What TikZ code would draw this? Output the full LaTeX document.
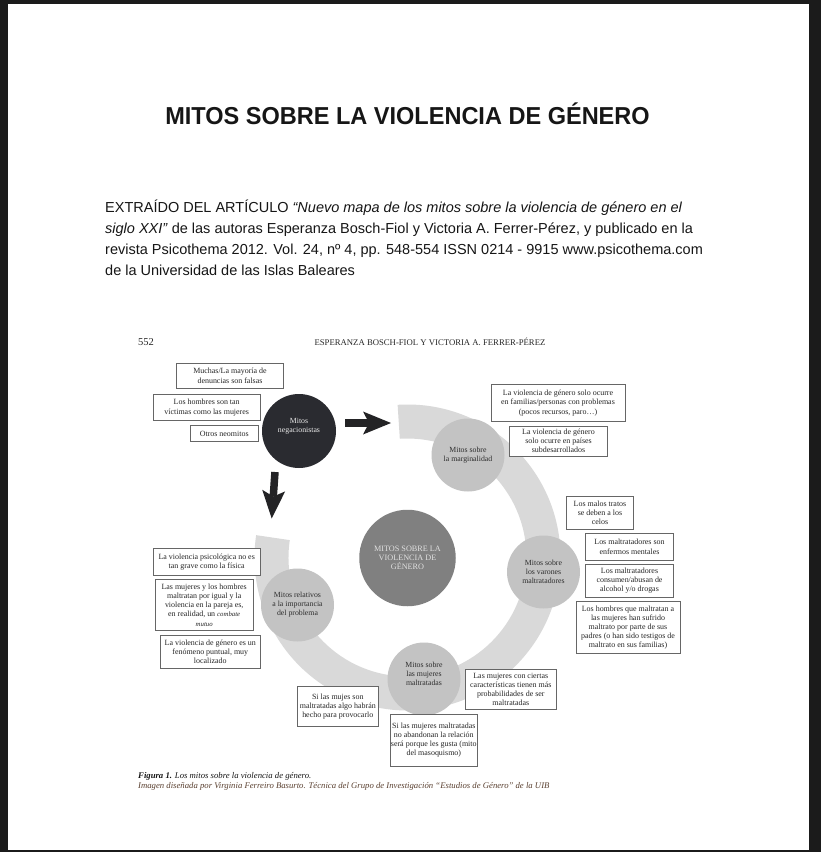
\documentclass[tikz,border=0pt]{standalone}
\usepackage{fontspec}
\usepackage{graphicx}
\setmainfont{Liberation Serif}
\newfontfamily\sansf{Liberation Sans}
\usetikzlibrary{arrows.meta,calc}
\definecolor{pagebg}{HTML}{1B1B1B}
\definecolor{ringc}{HTML}{D9D9D9}
\definecolor{satfill}{HTML}{C3C3C3}
\definecolor{centfill}{HTML}{808080}
\definecolor{negfill}{HTML}{2A2B30}
\definecolor{arrowc}{HTML}{232325}
\definecolor{boxc}{HTML}{666666}
\definecolor{boxtext}{HTML}{262626}
\definecolor{sattext}{HTML}{2E2E2E}
\definecolor{capbrown}{HTML}{5A4030}
\definecolor{inkc}{HTML}{161616}
\begin{document}
\begin{tikzpicture}[x=1pt,y=-1pt,
  box/.style={draw=boxc, line width=0.6pt, fill=white, inner sep=1pt, align=center, text=boxtext, font=\fontsize{7.95}{9.2}\selectfont},
  satc/.style={circle, fill=satfill, inner sep=0pt, minimum size=73pt, align=center, text=sattext, font=\fontsize{7.8}{9}\selectfont},
  para/.style={anchor=base west, inner sep=0pt, text=inkc, font=\sansf\fontsize{14.5}{17}\selectfont},
  blockarrow/.style={draw=arrowc, line width=7.5pt, -{Stealth[length=28pt,width=23pt,inset=6pt,line width=0pt]}}
]
\useasboundingbox (0,0) rectangle (821,852);
% page
\fill[pagebg] (0,0) rectangle (821,852);
\fill[white] (8,4) rectangle (809,850);
% title and paragraph
\node[anchor=base, inner sep=0pt, text=inkc, font=\sansf\bfseries\fontsize{24.5}{28}\selectfont] (title) at (407.5,124.5) {\scalebox{0.96}[1]{MITOS SOBRE LA VIOLENCIA DE GÉNERO}};
\node[para] (p1) at (105,212) {EXTRAÍDO DEL ARTÍCULO \textit{“Nuevo mapa de los mitos sobre la violencia de género en el}};
\node[para] (p2) at (105,233) {\textit{siglo XXI”} de las autoras Esperanza Bosch-Fiol y Victoria A. Ferrer-Pérez, y publicado en la};
\node[para] (p3) at (105,254) {revista Psicothema 2012. Vol. 24, nº 4, pp. 548-554 ISSN 0214 - 9915 www.psicothema.com};
\node[para] (p4) at (105,275) {de la Universidad de las Islas Baleares};
% header of figure page
\node[anchor=base west, inner sep=0pt, text=boxtext, font=\fontsize{10.5}{12}\selectfont] (pgnum) at (138,345) {552};
\node[anchor=base, inner sep=0pt, text=boxtext, font=\fontsize{8.7}{10}\selectfont] (hdr) at (430,345) {ESPERANZA BOSCH-FIOL Y VICTORIA A. FERRER-PÉREZ};
% ring
\coordinate (rc) at (407.5,557.5);
\fill[ringc] ($(rc)+(-93.7:153)$) arc[start angle=-93.7,end angle=188.4,radius=153] -- ($(rc)+(188.4:119)$) arc[start angle=188.4,end angle=-93.7,radius=119] -- cycle;
% circles
\node[circle, fill=centfill, inner sep=0pt, minimum size=96.5pt, align=center, text=white!88!black, font=\fontsize{8.2}{9.3}\selectfont] (cen) at (407.5,558) {MITOS SOBRE LA\\VIOLENCIA DE\\GÉNERO};
\node[satc, fill=negfill, text=white!92!black, minimum size=74pt] (neg) at (299,431) {Mitos\\negacionistas\\[3pt]};
\node[satc] (marg) at (468,455) {Mitos sobre\\la marginalidad};
\node[satc] (var) at (543.5,572) {Mitos sobre\\los varones\\maltratadores};
\node[satc] (muj) at (424,679) {};
\node[inner sep=0pt, align=center, text=sattext, font=\fontsize{7.8}{9}\selectfont] (mujt) at (424,673.5) {Mitos sobre\\las mujeres\\maltratadas};
\node[satc] (rel) at (297.5,605) {Mitos relativos\\a la importancia\\del problema};
% arrows
\coordinate (ar1s) at (345,423);
\coordinate (ar1e) at (391,423);
\coordinate (ar2s) at (275,472);
\coordinate (ar2e) at (271.7,518.5);
\draw[blockarrow] (ar1s) -- (ar1e);
\draw[blockarrow] (ar2s) -- (ar2e);
% boxes
\node[box, minimum width=106.6pt, minimum height=25pt] (b1) at (230,375.8) {Muchas/La mayoría de\\denuncias son falsas};
\node[box, minimum width=106.7pt, minimum height=26.4pt] (b2) at (206.7,407.5) {Los hombres son tan\\víctimas como las mujeres};
\node[box, minimum width=68.3pt, minimum height=16pt] (b3) at (224.2,433.7) {Otros neomitos};
\node[box, minimum width=134pt, minimum height=37.4pt] (b4) at (558,403) {La violencia de género solo ocurre\\en familias/personas con problemas\\(pocos recursos, paro…)};
\node[box, minimum width=98.4pt, minimum height=30pt] (b5) at (558.5,441) {La violencia de género\\solo ocurre en países\\subdesarrollados};
\node[box, minimum width=66.6pt, minimum height=33.3pt] (b6) at (600,512.7) {Los malos tratos\\se deben a los\\celos};
\node[box, minimum width=87.6pt, minimum height=26.7pt] (b7) at (629.5,546.7) {Los maltratadores son\\enfermos mentales};
\node[box, minimum width=87.6pt, minimum height=33pt] (b8) at (629.5,580.8) {Los maltratadores\\consumen/abusan de\\alcohol y/o drogas};
\node[box, minimum width=104pt, minimum height=51.6pt] (b9) at (628,627.5) {Los hombres que maltratan a\\las mujeres han sufrido\\maltrato por parte de sus\\padres (o han sido testigos de\\maltrato en sus familias)};
\node[box, minimum width=106.7pt, minimum height=26.7pt] (b10) at (206.7,561.7) {La violencia psicológica no es\\tan grave como la física};
\node[box, minimum width=98.3pt, minimum height=51.4pt] (b11) at (204.2,605) {Las mujeres y los hombres\\maltratan por igual y la\\violencia en la pareja es,\\en realidad, un {\itshape\fontsize{6.8}{9.2}\selectfont combate}\\{\itshape\fontsize{6.8}{9.2}\selectfont mutuo}};
\node[box, minimum width=99.3pt, minimum height=33.3pt] (b12) at (210.3,651.7) {La violencia de género es un\\fenómeno puntual, muy\\localizado};
\node[box, minimum width=81pt, minimum height=39.3pt] (b13) at (337.8,706.3) {Si las mujes son\\maltratadas algo habrán\\hecho para provocarlo};
\node[box, minimum width=85.7pt, minimum height=52pt] (b14) at (433.8,740) {Si las mujeres maltratadas\\no abandonan la relación\\será porque les gusta (mito\\del masoquismo)};
\node[box, minimum width=91.7pt, minimum height=40pt] (b15) at (510.8,689.3) {Las mujeres con ciertas\\características tienen más\\probabilidades de ser\\maltratadas};
% caption
\node[anchor=base west, inner sep=0pt, text=inkc, font=\fontsize{8.7}{10}\selectfont\itshape] (cap1) at (138,778) {\textbf{Figura 1.} Los mitos sobre la violencia de género.};
\node[anchor=base west, inner sep=0pt, text=capbrown, font=\fontsize{8.7}{10}\selectfont\itshape] (cap2) at (138,788) {Imagen diseñada por Virginia Ferreiro Basurto. Técnica del Grupo de Investigación “Estudios de Género” de la UIB};
\end{tikzpicture}
\end{document}
